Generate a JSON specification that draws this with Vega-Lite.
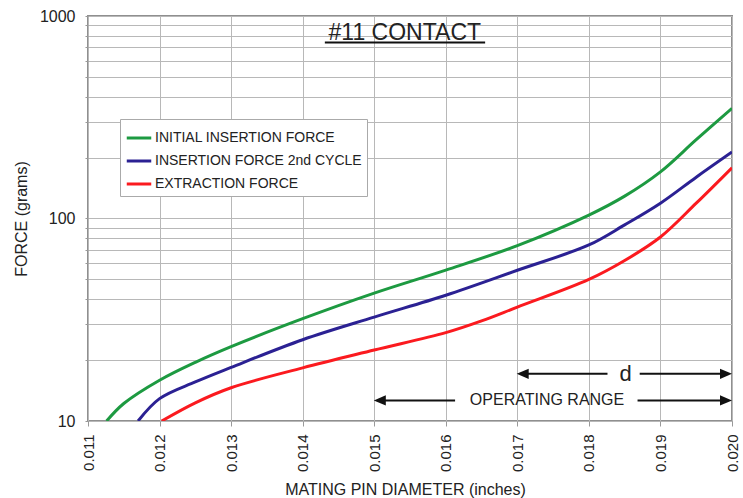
{
  "$schema": "https://vega.github.io/schema/vega-lite/v6.json",
  "width": 644,
  "height": 405,
  "autosize": {"type": "none"},
  "padding": {"left": 88, "top": 16, "right": 11, "bottom": 77},
  "background": "white",
  "config": {
    "font": "Liberation Sans",
    "view": {"stroke": "#8f8f8f", "strokeWidth": 2}
  },
  "datasets": {
    "curves": [
      {"diameter": 0.01126, "force": 10, "series": "INITIAL INSERTION FORCE"},
      {"diameter": 0.0115, "force": 12.2, "series": "INITIAL INSERTION FORCE"},
      {"diameter": 0.012, "force": 15.9, "series": "INITIAL INSERTION FORCE"},
      {"diameter": 0.0125, "force": 19.5, "series": "INITIAL INSERTION FORCE"},
      {"diameter": 0.013, "force": 23.3, "series": "INITIAL INSERTION FORCE"},
      {"diameter": 0.014, "force": 32, "series": "INITIAL INSERTION FORCE"},
      {"diameter": 0.015, "force": 42.8, "series": "INITIAL INSERTION FORCE"},
      {"diameter": 0.016, "force": 55.6, "series": "INITIAL INSERTION FORCE"},
      {"diameter": 0.017, "force": 73.5, "series": "INITIAL INSERTION FORCE"},
      {"diameter": 0.018, "force": 104, "series": "INITIAL INSERTION FORCE"},
      {"diameter": 0.0185, "force": 129, "series": "INITIAL INSERTION FORCE"},
      {"diameter": 0.019, "force": 170, "series": "INITIAL INSERTION FORCE"},
      {"diameter": 0.0195, "force": 245, "series": "INITIAL INSERTION FORCE"},
      {"diameter": 0.02, "force": 350, "series": "INITIAL INSERTION FORCE"},
      {"diameter": 0.0117, "force": 10, "series": "INSERTION FORCE 2nd CYCLE"},
      {"diameter": 0.012, "force": 12.9, "series": "INSERTION FORCE 2nd CYCLE"},
      {"diameter": 0.0125, "force": 15.6, "series": "INSERTION FORCE 2nd CYCLE"},
      {"diameter": 0.013, "force": 18.4, "series": "INSERTION FORCE 2nd CYCLE"},
      {"diameter": 0.014, "force": 25.2, "series": "INSERTION FORCE 2nd CYCLE"},
      {"diameter": 0.015, "force": 32.6, "series": "INSERTION FORCE 2nd CYCLE"},
      {"diameter": 0.016, "force": 41.8, "series": "INSERTION FORCE 2nd CYCLE"},
      {"diameter": 0.017, "force": 55.5, "series": "INSERTION FORCE 2nd CYCLE"},
      {"diameter": 0.018, "force": 74, "series": "INSERTION FORCE 2nd CYCLE"},
      {"diameter": 0.0185, "force": 93, "series": "INSERTION FORCE 2nd CYCLE"},
      {"diameter": 0.019, "force": 119, "series": "INSERTION FORCE 2nd CYCLE"},
      {"diameter": 0.0195, "force": 160, "series": "INSERTION FORCE 2nd CYCLE"},
      {"diameter": 0.02, "force": 213, "series": "INSERTION FORCE 2nd CYCLE"},
      {"diameter": 0.01203, "force": 10, "series": "EXTRACTION FORCE"},
      {"diameter": 0.0125, "force": 12.3, "series": "EXTRACTION FORCE"},
      {"diameter": 0.013, "force": 14.6, "series": "EXTRACTION FORCE"},
      {"diameter": 0.014, "force": 18.3, "series": "EXTRACTION FORCE"},
      {"diameter": 0.015, "force": 22.4, "series": "EXTRACTION FORCE"},
      {"diameter": 0.016, "force": 27.3, "series": "EXTRACTION FORCE"},
      {"diameter": 0.0165, "force": 31.2, "series": "EXTRACTION FORCE"},
      {"diameter": 0.017, "force": 36.5, "series": "EXTRACTION FORCE"},
      {"diameter": 0.018, "force": 50, "series": "EXTRACTION FORCE"},
      {"diameter": 0.0185, "force": 62, "series": "EXTRACTION FORCE"},
      {"diameter": 0.019, "force": 81, "series": "EXTRACTION FORCE"},
      {"diameter": 0.0195, "force": 119, "series": "EXTRACTION FORCE"},
      {"diameter": 0.02, "force": 178, "series": "EXTRACTION FORCE"}
    ],
    "shafts": [
      {"diameter": 0.01708, "diameter2": 0.01826, "force": 17.1},
      {"diameter": 0.01871, "diameter2": 0.01992, "force": 17.1},
      {"diameter": 0.01508, "diameter2": 0.01613, "force": 12.64},
      {"diameter": 0.01868, "diameter2": 0.01992, "force": 12.64},
      {"diameter": 0.01431, "diameter2": 0.01655, "force": 739}
    ],
    "heads": [
      {"diameter": 0.017075, "force": 17.1, "dir": "left"},
      {"diameter": 0.019916, "force": 17.1, "dir": "right"},
      {"diameter": 0.015078, "force": 12.64, "dir": "left"},
      {"diameter": 0.019916, "force": 12.64, "dir": "right"}
    ],
    "titlelabel": [{"diameter": 0.015427, "force": 757, "text": "#11 CONTACT"}],
    "dlabel": [{"diameter": 0.018514, "force": 17.1, "text": "d"}],
    "oplabel": [{"diameter": 0.017415, "force": 12.64, "text": "OPERATING RANGE"}]
  },
  "layer": [
    {
      "data": {"name": "curves"},
      "mark": {"type": "line", "strokeWidth": 3, "interpolate": "catmull-rom", "clip": true},
      "encoding": {
        "x": {
          "field": "diameter",
          "type": "quantitative",
          "scale": {"domain": [0.011, 0.02], "nice": false, "zero": false},
          "axis": {
            "title": "MATING PIN  DIAMETER (inches)",
            "values": [0.011, 0.012, 0.013, 0.014, 0.015, 0.016, 0.017, 0.018, 0.019, 0.02],
            "format": ".3f",
            "labelAngle": -90,
            "labelAlign": "right",
            "labelBaseline": "middle",
            "labelFontSize": 15,
            "labelColor": "#222222",
            "labelPadding": 8,
            "labelOverlap": false,
            "labelFlush": false,
            "domain": false,
            "tickColor": "#999999",
            "tickSize": 5,
            "gridColor": "#b8b8b8",
            "gridWidth": 1,
            "titleFontSize": 16,
            "titleFontWeight": "normal",
            "titleColor": "#222222",
            "titlePadding": 10,
            "titleX": 317
          }
        },
        "y": {
          "field": "force",
          "type": "quantitative",
          "scale": {"type": "log", "domain": [10, 1000], "nice": false},
          "axis": {
            "title": "FORCE (grams)",
            "values": [10, 20, 30, 40, 50, 60, 70, 80, 90, 100, 200, 300, 400, 500, 600, 700, 800, 900, 1000],
            "labelExpr": "datum.value == 10 || datum.value == 100 || datum.value == 1000 ? format(datum.value, 'd') : ''",
            "labelFontSize": 16,
            "labelColor": "#222222",
            "labelPadding": 10,
            "labelOverlap": false,
            "labelFlush": false,
            "domain": false,
            "tickColor": "#999999",
            "tickSize": 3,
            "gridColor": "#b8b8b8",
            "gridWidth": 1,
            "titleFontSize": 16,
            "titleFontWeight": "normal",
            "titleColor": "#222222",
            "titlePadding": 10
          }
        },
        "color": {
          "field": "series",
          "type": "nominal",
          "scale": {
            "domain": ["INITIAL INSERTION FORCE", "INSERTION FORCE 2nd CYCLE", "EXTRACTION FORCE"],
            "range": ["#1d9a41", "#2b2193", "#fb1a1f"]
          },
          "legend": {
            "title": null,
            "orient": "none",
            "legendX": 32,
            "legendY": 103,
            "direction": "vertical",
            "strokeColor": "#aaaaaa",
            "fillColor": "white",
            "padding": 5,
            "symbolType": "stroke",
            "symbolSize": 600,
            "symbolStrokeWidth": 3,
            "labelFontSize": 14,
            "labelColor": "#222222",
            "labelOffset": 2,
            "rowPadding": 2,
            "labelLimit": 400
          }
        }
      }
    },
    {
      "data": {"name": "shafts"},
      "mark": {"type": "rule", "strokeWidth": 2, "color": "#111111"},
      "encoding": {
        "x": {"field": "diameter", "type": "quantitative"},
        "x2": {"field": "diameter2"},
        "y": {"field": "force", "type": "quantitative"}
      }
    },
    {
      "data": {"name": "heads"},
      "mark": {"type": "point", "filled": true, "size": 144, "color": "#111111", "opacity": 1},
      "encoding": {
        "x": {"field": "diameter", "type": "quantitative"},
        "y": {"field": "force", "type": "quantitative"},
        "shape": {
          "field": "dir",
          "type": "nominal",
          "scale": {"domain": ["left", "right"], "range": ["M1,-0.85L-1,0L1,0.85Z", "M-1,-0.85L1,0L-1,0.85Z"]},
          "legend": null
        }
      }
    },
    {
      "data": {"name": "titlelabel"},
      "mark": {"type": "text", "fontSize": 23, "color": "#222222", "baseline": "alphabetic", "align": "center"},
      "encoding": {
        "x": {"field": "diameter", "type": "quantitative"},
        "y": {"field": "force", "type": "quantitative"},
        "text": {"field": "text"}
      }
    },
    {
      "data": {"name": "dlabel"},
      "mark": {"type": "text", "fontSize": 22, "color": "#222222", "baseline": "middle", "align": "center"},
      "encoding": {
        "x": {"field": "diameter", "type": "quantitative"},
        "y": {"field": "force", "type": "quantitative"},
        "text": {"field": "text"}
      }
    },
    {
      "data": {"name": "oplabel"},
      "mark": {"type": "text", "fontSize": 16, "color": "#222222", "baseline": "middle", "align": "center"},
      "encoding": {
        "x": {"field": "diameter", "type": "quantitative"},
        "y": {"field": "force", "type": "quantitative"},
        "text": {"field": "text"}
      }
    }
  ]
}
